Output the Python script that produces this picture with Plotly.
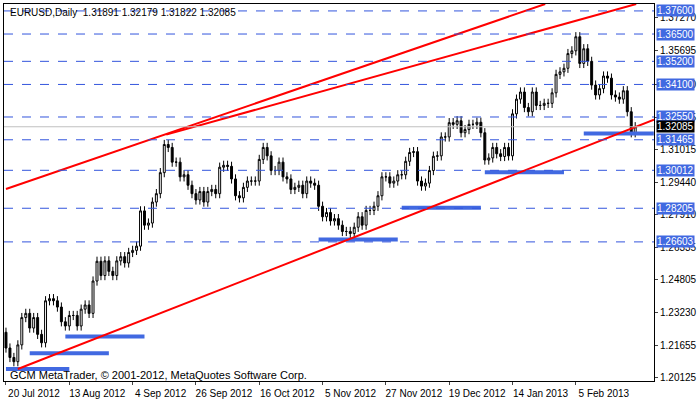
import plotly.graph_objects as go

# daily closes, EURUSD (one per bar)
closes = [
    1.2155, 1.2110, 1.2090, 1.2170, 1.2300, 1.2320, 1.2250, 1.2300, 1.2220, 1.2180,
    1.2380, 1.2390, 1.2380, 1.2350, 1.2280, 1.2260, 1.2310, 1.2310, 1.2260, 1.2340,
    1.2360, 1.2320, 1.2474, 1.2568, 1.2500, 1.2570, 1.2520, 1.2500, 1.2570, 1.2590,
    1.2560, 1.2610, 1.2620, 1.2640, 1.2808, 1.2740, 1.2750, 1.2850, 1.2890, 1.2990,
    1.3124, 1.3110, 1.3040, 1.3040, 1.2970, 1.2980, 1.2930, 1.2890, 1.2860, 1.2900,
    1.2850, 1.2900, 1.2910, 1.2890, 1.3016, 1.3025, 1.3020, 1.2960, 1.2880, 1.2870,
    1.2920, 1.2950, 1.2950, 1.2950, 1.3053, 1.3110, 1.3070, 1.3000, 1.3000, 1.3040,
    1.2970, 1.2960, 1.2910, 1.2920, 1.2930, 1.2890, 1.2950, 1.2940, 1.2930, 1.2830,
    1.2780, 1.2800, 1.2760, 1.2771, 1.2740, 1.2710, 1.2710, 1.2700, 1.2730, 1.2780,
    1.2740, 1.2810, 1.2810, 1.2830, 1.2880, 1.2970, 1.2970, 1.2940, 1.2950, 1.2980,
    1.2980, 1.3044, 1.3086, 1.3090, 1.2950, 1.2926, 1.2940, 1.3000, 1.3068, 1.3070,
    1.3160, 1.3160, 1.3228, 1.3220, 1.3237, 1.3180, 1.3195, 1.3220, 1.3220, 1.3230,
    1.3180, 1.3050, 1.3060, 1.3110, 1.3080, 1.3067, 1.3110, 1.3070, 1.3270, 1.3340,
    1.3374, 1.3300, 1.3280, 1.3374, 1.3310, 1.3310, 1.3320, 1.3320, 1.3370, 1.3458,
    1.3470, 1.3487, 1.3557, 1.3570, 1.3637, 1.3510, 1.3580, 1.3520, 1.3407, 1.3360,
    1.3390, 1.3450, 1.3440, 1.3360, 1.3350, 1.3340, 1.3380, 1.3280, 1.3180, 1.32085,
]
first_open = 1.2230
wick = 0.0022

tick_idx = [0, 16, 32, 48, 64, 80, 96, 112, 128, 144]
tick_text = ["20 Jul 2012", "13 Aug 2012", "4 Sep 2012", "26 Sep 2012", "16 Oct 2012",
             "5 Nov 2012", "27 Nov 2012", "19 Dec 2012", "14 Jan 2013", "5 Feb 2013"]

price_ticks = [1.37270, 1.35695, 1.34120, 1.32545, 1.31015, 1.29440, 1.27910,
               1.26335, 1.24805, 1.23230, 1.21655, 1.20125]

levels = [1.37600, 1.36500, 1.35200, 1.34100, 1.32550, 1.31465, 1.30012, 1.28205, 1.26603]
last_price = 1.32085

# red trend lines: (index, price) anchor pairs
trend_lines = [
    ([0, 136.25], [1.29121, 1.37929]),
    ([40.5, 159.25], [1.31712, 1.37929]),
    ([3, 163.75], [1.2055, 1.32418]),
]

# blue support segments: (start idx, end idx, price)
supports = [
    (0, 16, 1.2055), (6, 26, 1.2130), (15, 35, 1.2210), (79, 99, 1.2672),
    (100, 120, 1.2823), (121, 141, 1.2992), (146, 163.7, 1.3176),
]

x = list(range(len(closes)))
opens = [first_open] + closes[:-1]
highs = [max(o, c) + wick for o, c in zip(opens, closes)]
lows = [min(o, c) - wick for o, c in zip(opens, closes)]

fig = go.Figure()

for lv in levels:
    fig.add_hline(y=lv, line=dict(color="#3355dd", width=1, dash="dash"))
fig.add_hline(y=last_price, line=dict(color="#c0c0c0", width=1))

for s, e, p in supports:
    fig.add_trace(go.Scatter(x=[s, e], y=[p, p], mode="lines",
                             line=dict(color="#4169e1", width=4), hoverinfo="skip"))

fig.add_trace(go.Candlestick(
    x=x, open=opens, high=highs, low=lows, close=closes,
    increasing=dict(line=dict(color="black", width=1), fillcolor="white"),
    decreasing=dict(line=dict(color="black", width=1), fillcolor="black"),
    whiskerwidth=0,
))

for xs, ys in trend_lines:
    fig.add_trace(go.Scatter(x=xs, y=ys, mode="lines",
                             line=dict(color="#ff0000", width=2), hoverinfo="skip"))

lab_font = dict(family="Liberation Sans", color="white", size=10)
for lv in levels:
    fig.add_annotation(x=1, xref="paper", y=lv, yref="y", xanchor="left",
                       text="%.5f" % lv, showarrow=False, bgcolor="#4169e1",
                       font=lab_font, borderpad=0, xshift=2)
fig.add_annotation(x=1, xref="paper", y=last_price, yref="y", xanchor="left",
                   text="%.5f" % last_price, showarrow=False, bgcolor="black",
                   font=lab_font, borderpad=0, xshift=2)

fig.add_annotation(x=0, xref="paper", y=1, yref="paper", xanchor="left", yanchor="top",
                   text="EURUSD,Daily  1.31891 1.32179 1.31822 1.32085", showarrow=False,
                   font=dict(size=10, color="black"), xshift=4, yshift=-1)
fig.add_annotation(x=0, xref="paper", y=0, yref="paper", xanchor="left", yanchor="bottom",
                   text="GCM MetaTrader, © 2001-2012, MetaQuotes Software Corp.", showarrow=False,
                   font=dict(size=11, color="black"), xshift=4, yshift=-2)

fig.update_layout(
    width=700, height=402, showlegend=False,
    margin=dict(l=3, r=42, t=3, b=18),
    paper_bgcolor="white", plot_bgcolor="white",
    font=dict(family="Liberation Sans", size=10, color="black"),
    xaxis=dict(range=[-0.5, 163.75], rangeslider=dict(visible=False),
               tickvals=tick_idx, ticktext=tick_text, ticks="outside", ticklen=3,
               tickangle=0, ticklabelshift=28, ticklabelstandoff=0,
               showgrid=False, zeroline=False, showline=True, linecolor="black",
               mirror=True, tickfont=dict(size=10)),
    yaxis=dict(range=[1.1998, 1.3793], side="right", tickvals=price_ticks,
               ticktext=["%.5f" % t for t in price_ticks], ticks="outside", ticklen=3,
               showgrid=False, zeroline=False, showline=True, linecolor="black",
               mirror=True, tickfont=dict(size=10)),
)

fig.write_html("out.html", config={"displayModeBar": False},
               post_script="document.body.style.margin='0';document.body.style.overflow='hidden';")
